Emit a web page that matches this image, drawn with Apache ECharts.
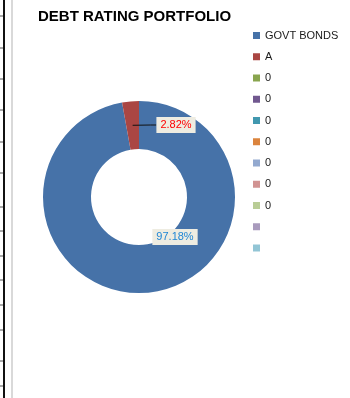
<!DOCTYPE html>
<html>
<head>
<meta charset="utf-8">
<script src="https://cdn.jsdelivr.net/npm/echarts@6/dist/echarts.min.js"></script>
<style>
  html, body { margin: 0; padding: 0; background: #fff; }
  #chart { width: 350px; height: 398px; }
</style>
</head>
<body>
<div id="chart"></div>
<script>
// legend labels as shown in the sheet (several empty / "0" rows)
const labels = ["GOVT BONDS", "A", "0", "0", "0", "0", "0", "0", "0", "", ""];
const values = [97.18, 2.82, 0, 0, 0, 0, 0, 0, 0, 0, 0];
const colors = ["#4672A8", "#AA4643", "#89A54E", "#71588F", "#4198AF", "#DB843D",
  "#93A9CF", "#D19392", "#B9CD96", "#A99BBD", "#92C5D5"];
const labelColors = ["#1F86D5", "#FF0000"];

// spreadsheet gridline stubs on the left edge
const gridTicks = [16, 48, 79, 110, 142, 173, 207, 231, 256, 280, 305, 330, 361, 386];

// legend needs unique names, display text comes from labels
const keys = labels.map((l, i) => "k" + i);

const chart = echarts.init(document.getElementById("chart"));

const labelBox = i => ({
  show: true,
  color: labelColors[i],
  backgroundColor: "#EEECE1",
  padding: [3, 4, 2, 4],
  fontSize: 11,
  fontFamily: "Liberation Sans",
  formatter: p => p.value.toFixed(2) + "%"
});

// ring slices; only the big slice carries its label here
const ringData = values.map((v, i) => ({
  name: keys[i],
  value: v,
  itemStyle: { color: colors[i] },
  label: i === 0 ? Object.assign(labelBox(i), { position: "inside" }) : { show: false },
  labelLine: { show: false }
}));

// transparent pie reaching the middle of the ring, so the small slice's
// leader line starts inside the slice like in the sheet
const leaderData = values.map((v, i) => ({
  name: keys[i],
  value: v,
  itemStyle: { color: "rgba(0,0,0,0)" },
  label: i === 1 ? Object.assign(labelBox(i), { position: "outside" }) : { show: false },
  labelLine: {
    show: i === 1,
    showAbove: true,
    length: 6,
    length2: 6,
    lineStyle: { color: "#111", width: 1 }
  }
}));

const graphics = [
  { type: "rect", shape: { x: 3, y: 0, width: 2, height: 398 }, style: { fill: "#111" } },
  { type: "rect", shape: { x: 11, y: 0, width: 2, height: 398 }, style: { fill: "#D9D9D9" } }
].concat(gridTicks.map(y => ({
  type: "line", shape: { x1: 0, y1: y, x2: 3, y2: y }, style: { stroke: "#555", lineWidth: 1 }
})));

const option = {
  animation: false,
  title: {
    text: "DEBT RATING PORTFOLIO",
    left: 33,
    top: 4,
    textStyle: { fontFamily: "Liberation Sans", fontWeight: "bold", fontSize: 15, color: "#000" }
  },
  legend: {
    orient: "vertical",
    left: 253,
    top: 28.5,
    padding: 0,
    itemWidth: 7,
    itemHeight: 7,
    itemGap: 7.25,
    icon: "rect",
    data: keys.map((k, i) => ({ name: k, itemStyle: { color: colors[i] } })),
    formatter: name => labels[keys.indexOf(name)] || " ",
    textStyle: { fontFamily: "Liberation Sans", fontSize: 11, color: "#1a1a1a", lineHeight: 14 },
    selectedMode: false
  },
  graphic: graphics,
  series: [{
    type: "pie",
    center: [139, 197],
    radius: [48, 96],
    startAngle: 90,
    clockwise: true,
    avoidLabelOverlap: false,
    labelLayout: p => p.dataIndex === 0
      ? { x: 175, y: 237, align: "center", verticalAlign: "middle" } : {},
    data: ringData
  }, {
    type: "pie",
    z: 3,
    silent: true,
    center: [139, 197],
    radius: [0, 72],
    startAngle: 90,
    clockwise: true,
    avoidLabelOverlap: false,
    labelLayout: p => p.dataIndex === 1
      ? { x: 176, y: 125, align: "center", verticalAlign: "middle" } : {},
    data: leaderData
  }]
};

chart.setOption(option);
</script>
</body>
</html>
